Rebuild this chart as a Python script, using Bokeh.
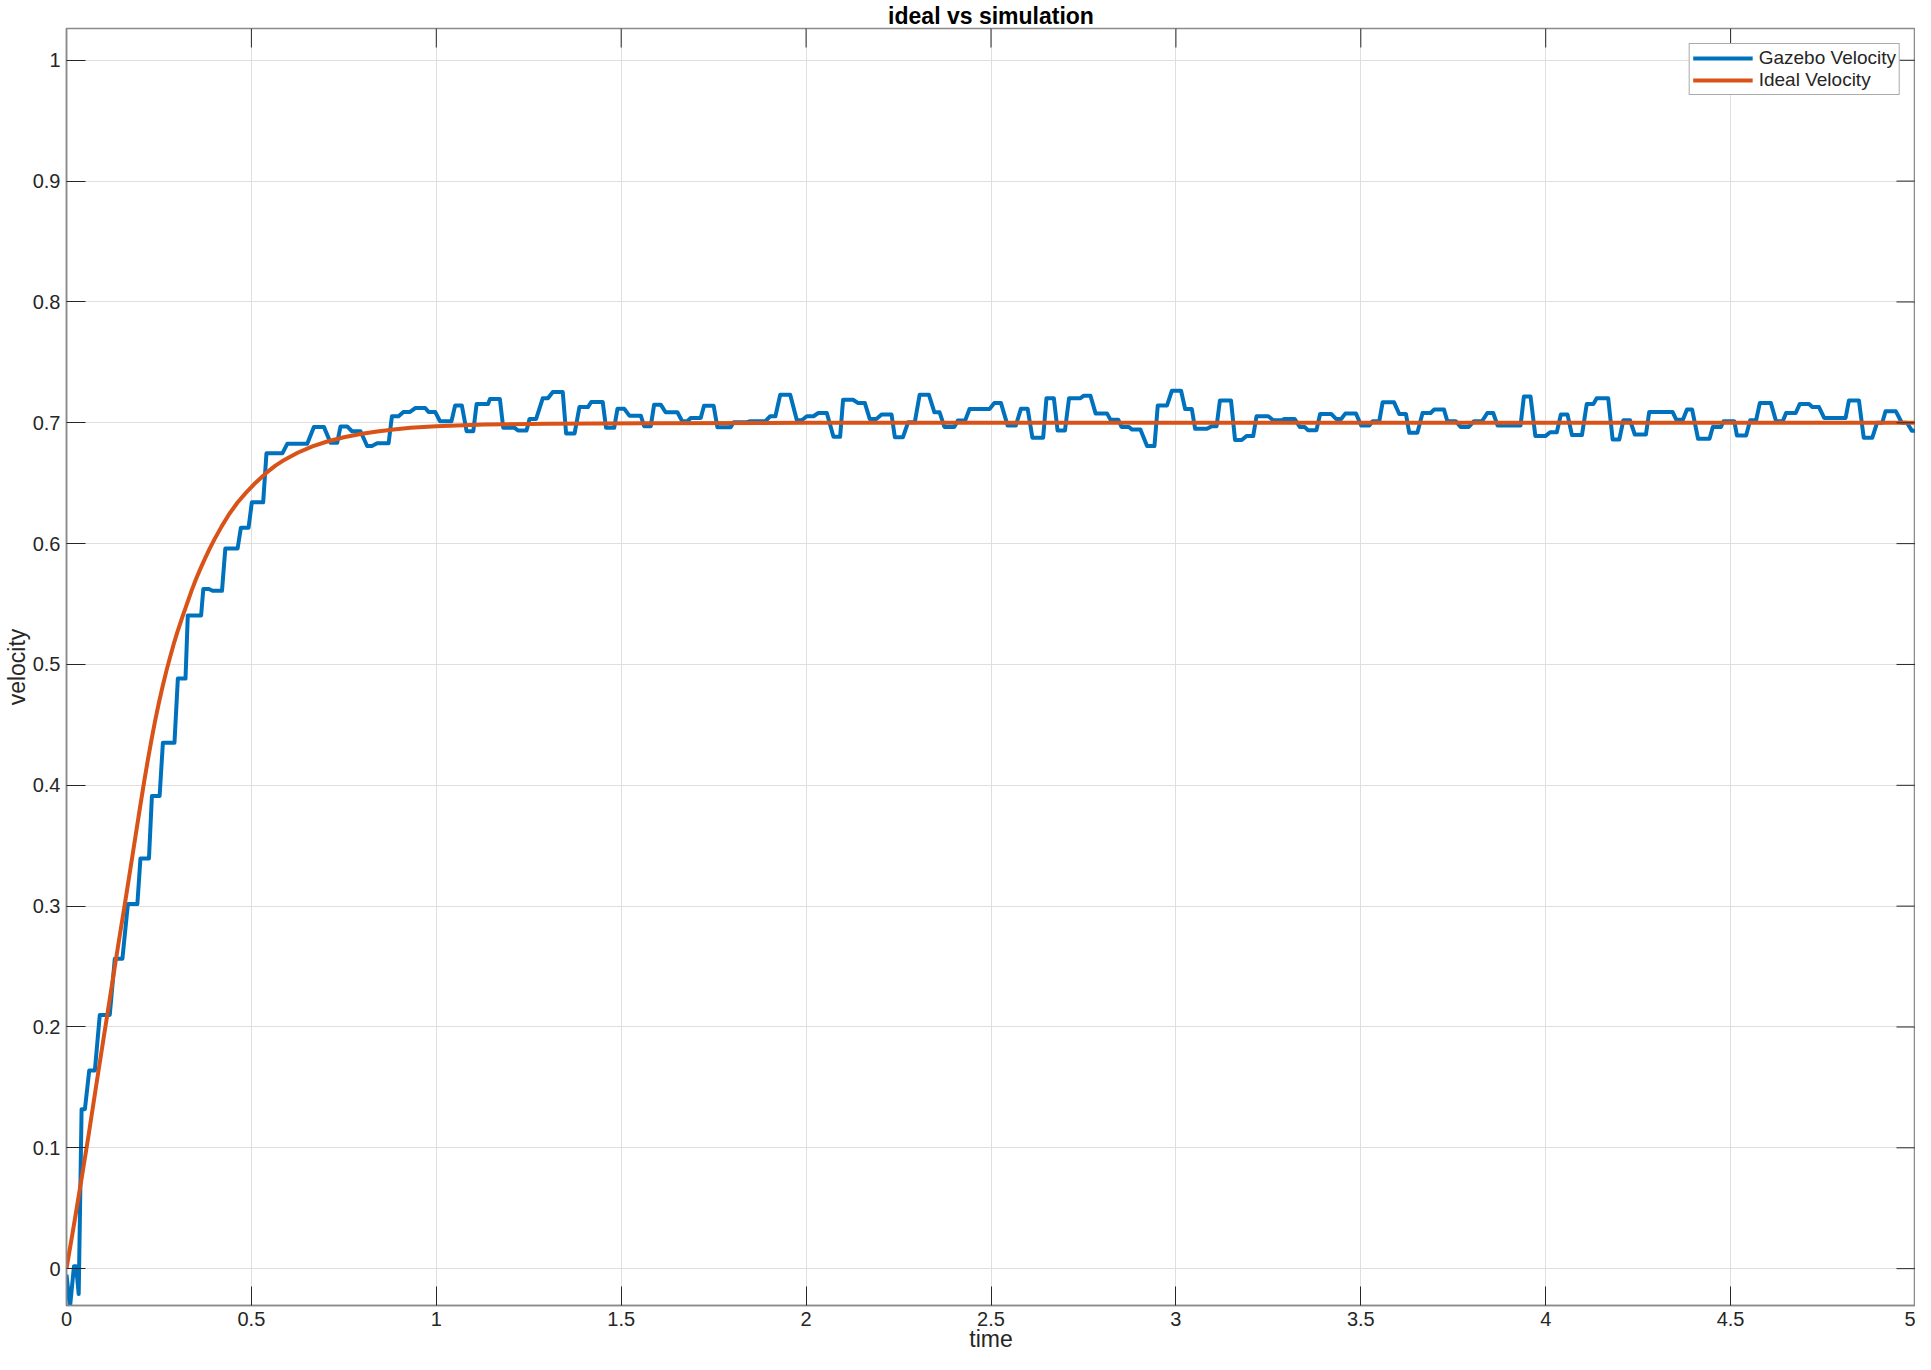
import math
from bokeh.plotting import figure
from bokeh.models import Range1d, FixedTicker, Legend, LegendItem, ColumnDataSource
from bokeh.embed import file_html
from bokeh.resources import INLINE

# ---------------- data ----------------
x_ticks = [0, 0.5, 1, 1.5, 2, 2.5, 3, 3.5, 4, 4.5, 5]
x_tick_labels = ["0", "0.5", "1", "1.5", "2", "2.5", "3", "3.5", "4", "4.5", "5"]
y_ticks = [0, 0.1, 0.2, 0.3, 0.4, 0.5, 0.6, 0.7, 0.8, 0.9, 1.0]
y_tick_labels = ["0", "0.1", "0.2", "0.3", "0.4", "0.5", "0.6", "0.7", "0.8", "0.9", "1"]
x_limits = [0, 5]
y_limits = [-0.0305, 1.0263]

# Ideal velocity
ideal_time = [0, 0.02, 0.04, 0.06, 0.08, 0.10, 0.12, 0.14, 0.16, 0.18, 0.20, 0.21, 0.22,
              0.23, 0.24, 0.25, 0.26, 0.27, 0.28, 0.29, 0.30, 0.3125, 0.325, 0.3375, 0.35,
              0.3625, 0.375, 0.3875, 0.40, 0.42, 0.44, 0.4625, 0.485, 0.51, 0.54, 0.565,
              0.59, 0.625, 0.665, 0.705, 0.75, 0.795, 0.84, 0.885, 0.93, 1.0, 1.13, 1.3,
              1.56, 2.0, 5.0]
ideal_vel = [0, 0.036, 0.073, 0.111, 0.151, 0.19, 0.229, 0.268, 0.306, 0.345, 0.384, 0.403,
             0.421, 0.438, 0.454, 0.4685, 0.482, 0.4945, 0.506, 0.517, 0.527, 0.5385, 0.5495,
             0.5605, 0.5705, 0.5795, 0.588, 0.596, 0.6035, 0.6145, 0.6245, 0.634, 0.642,
             0.65, 0.6585, 0.6645, 0.6695, 0.6752, 0.6805, 0.6845, 0.688, 0.6907, 0.6928,
             0.6945, 0.6958, 0.6972, 0.6985, 0.6993, 0.6997, 0.7, 0.7]

# Gazebo velocity: held samples (start time, end time, value)
step_start = [0.000, 0.0094, 0.0202, 0.033, 0.0408, 0.0615, 0.090, 0.1306, 0.166, 0.200,
              0.231, 0.2607, 0.3011, 0.328, 0.370, 0.395, 0.4295, 0.4716, 0.5012, 0.5407,
              0.5973, 0.669, 0.714, 0.741, 0.772, 0.813, 0.840, 0.880, 0.911, 0.943,
              0.979, 1.010, 1.051, 1.082, 1.109, 1.145, 1.181, 1.221, 1.252, 1.288,
              1.315, 1.351, 1.387, 1.419, 1.459, 1.490, 1.522, 1.562, 1.589, 1.620,
              1.665, 1.688, 1.724, 1.760, 1.804, 1.849, 1.903, 1.930, 1.975, 2.002,
              2.033, 2.074, 2.100, 2.141, 2.172, 2.204, 2.240, 2.276, 2.307, 2.347,
              2.374, 2.410, 2.442, 2.509, 2.545, 2.581, 2.612, 2.650, 2.680, 2.711,
              2.751, 2.783, 2.823, 2.853, 2.881, 2.922, 2.951, 2.989, 3.025, 3.052,
              3.097, 3.119, 3.160, 3.191, 3.218, 3.263, 3.294, 3.335, 3.357, 3.390,
              3.433, 3.458, 3.501, 3.532, 3.559, 3.604, 3.631, 3.667, 3.698, 3.734,
              3.770, 3.806, 3.842, 3.870, 3.941, 3.972, 4.012, 4.041, 4.071, 4.111,
              4.138, 4.181, 4.210, 4.241, 4.280, 4.353, 4.382, 4.412, 4.452, 4.481,
              4.517, 4.553, 4.579, 4.623, 4.650, 4.687, 4.721, 4.753, 4.820, 4.860,
              4.896, 4.919, 4.963, 4.990]
step_end = [0.000, 0.0094, 0.026, 0.033, 0.0498, 0.0767, 0.117, 0.1512, 0.1916, 0.223,
            0.2518, 0.292, 0.3218, 0.364, 0.385, 0.4205, 0.4627, 0.4923, 0.5318, 0.5838,
            0.651, 0.696, 0.732, 0.759, 0.795, 0.826, 0.871, 0.898, 0.929, 0.970,
            0.997, 1.041, 1.069, 1.100, 1.140, 1.172, 1.212, 1.244, 1.270, 1.302,
            1.342, 1.374, 1.410, 1.450, 1.481, 1.508, 1.553, 1.580, 1.607, 1.652,
            1.679, 1.715, 1.750, 1.796, 1.840, 1.890, 1.917, 1.957, 1.988, 2.020,
            2.056, 2.092, 2.127, 2.159, 2.190, 2.231, 2.262, 2.294, 2.332, 2.361,
            2.401, 2.430, 2.496, 2.527, 2.567, 2.599, 2.641, 2.670, 2.700, 2.742,
            2.769, 2.814, 2.844, 2.873, 2.904, 2.942, 2.976, 3.014, 3.043, 3.084,
            3.110, 3.149, 3.178, 3.209, 3.250, 3.285, 3.321, 3.348, 3.380, 3.420,
            3.447, 3.487, 3.523, 3.550, 3.590, 3.622, 3.653, 3.689, 3.725, 3.757,
            3.792, 3.828, 3.858, 3.932, 3.959, 3.999, 4.030, 4.059, 4.098, 4.129,
            4.169, 4.199, 4.228, 4.271, 4.343, 4.371, 4.396, 4.443, 4.474, 4.510,
            4.542, 4.569, 4.609, 4.641, 4.676, 4.712, 4.739, 4.811, 4.847, 4.883,
            4.910, 4.947, 4.977, 5.000]
step_vel = [-0.005, -0.032, 0.002, -0.021, 0.132, 0.164, 0.210, 0.2565, 0.3017, 0.3395,
            0.3912, 0.4353, 0.4883, 0.5406, 0.5625, 0.561, 0.596, 0.6132, 0.6342, 0.6747,
            0.6827, 0.6966, 0.6835, 0.697, 0.693, 0.6808, 0.683, 0.7054, 0.709, 0.7122,
            0.709, 0.7013, 0.7144, 0.693, 0.7155, 0.7196, 0.6958, 0.6936, 0.7032, 0.7204,
            0.7254, 0.6912, 0.713, 0.7172, 0.6958, 0.7117, 0.7059, 0.6972, 0.715, 0.7087,
            0.7013, 0.704, 0.7141, 0.6964, 0.7005, 0.7013, 0.7054, 0.7232, 0.7021, 0.7054,
            0.7081, 0.6884, 0.7191, 0.7163, 0.7032, 0.7068, 0.6881, 0.7005, 0.7232, 0.7087,
            0.6966, 0.7018, 0.7114, 0.7163, 0.6977, 0.7117, 0.6876, 0.7204, 0.6936, 0.7204,
            0.7224, 0.7076, 0.7026, 0.6966, 0.6944, 0.6808, 0.7144, 0.7265, 0.7114, 0.695,
            0.6972, 0.7185, 0.6857, 0.689, 0.7054, 0.7021, 0.7032, 0.6966, 0.6939, 0.7073,
            0.7032, 0.7076, 0.6977, 0.7013, 0.7169, 0.7073, 0.6917, 0.7081, 0.7109, 0.7013,
            0.6966, 0.7013, 0.7081, 0.6977, 0.7218, 0.689, 0.6922, 0.7068, 0.6898, 0.7155,
            0.7204, 0.6862, 0.7021, 0.6903, 0.709, 0.7026, 0.7109, 0.6868, 0.6966, 0.7013,
            0.6895, 0.7021, 0.7163, 0.7013, 0.7081, 0.7155, 0.713, 0.704, 0.7185, 0.6876,
            0.70, 0.7095, 0.70, 0.6935]

gz_time, gz_vel = [], []
for a, b, v in zip(step_start, step_end, step_vel):
    gz_time.append(a)
    gz_vel.append(v)
    if b != a:
        gz_time.append(b)
        gz_vel.append(v)

# ---------------- styling ----------------
FONT = "Liberation Sans"
TXT = "#262626"
AXIS_GREY = "#8a8a8a"
GRID = "#dfdfdf"
BLUE = "#0072BD"
ORANGE = "#D95319"
TICK_LEN = 19

p = figure(width=1915, height=1354, output_backend="svg", toolbar_location=None,
           x_range=Range1d(*x_limits), y_range=Range1d(*y_limits),
           min_border_left=50, min_border_right=0, min_border_top=0, min_border_bottom=20,
           background_fill_color="white", border_fill_color="white")

p.title.text = "ideal vs simulation"
p.title.align = "center"
p.title.text_font = FONT
p.title.text_font_size = "23px"
p.title.text_font_style = "bold"
p.title.text_color = "#000000"
p.title.standoff = 0
p.title.offset = 0

p.outline_line_color = AXIS_GREY
p.outline_line_width = 1.5

p.xgrid.grid_line_color = GRID
p.ygrid.grid_line_color = GRID

gz_src = ColumnDataSource(dict(t=gz_time, v=gz_vel))
id_src = ColumnDataSource(dict(t=ideal_time, v=ideal_vel))
r_gz = p.line("t", "v", source=gz_src, line_color=BLUE, line_width=4, line_join="round")
r_id = p.line("t", "v", source=id_src, line_color=ORANGE, line_width=4, line_join="round")

# inward ticks on the right and top edges (half of each dash is clipped by the frame)
p.scatter(x=[x_limits[1]] * len(y_ticks), y=y_ticks, marker="dash", size=2 * TICK_LEN,
          line_color=TXT, line_width=1)
p.scatter(x=x_ticks, y=[y_limits[1]] * len(x_ticks), marker="dash", angle=math.pi / 2,
          size=2 * TICK_LEN, line_color=TXT, line_width=1)

xt = FixedTicker(ticks=x_ticks, minor_ticks=[])
yt = FixedTicker(ticks=y_ticks, minor_ticks=[])
p.xaxis.ticker = xt
p.yaxis.ticker = yt
p.xgrid.ticker = xt
p.ygrid.ticker = yt
p.xaxis.major_label_overrides = {t: s for t, s in zip(x_ticks, x_tick_labels)}
p.yaxis.major_label_overrides = {t: s for t, s in zip(y_ticks, y_tick_labels)}

p.xaxis.axis_label = "time"
p.yaxis.axis_label = "velocity"

for ax in list(p.xaxis) + list(p.yaxis):
    ax.axis_line_color = AXIS_GREY
    ax.axis_line_width = 1.5
    ax.major_tick_line_color = TXT
    ax.major_tick_line_width = 1
    ax.major_tick_in = TICK_LEN
    ax.major_tick_out = 0
    ax.minor_tick_line_color = None
    ax.major_label_text_font = FONT
    ax.major_label_text_font_size = "20px"
    ax.major_label_text_color = TXT
    ax.axis_label_text_font = FONT
    ax.axis_label_text_font_size = "23px"
    ax.axis_label_text_font_style = "normal"
    ax.axis_label_text_color = TXT

p.xaxis.major_label_standoff = 6
p.xaxis.axis_label_standoff = -3
p.yaxis.major_label_standoff = 6
p.yaxis.axis_label_standoff = 0

legend = Legend(items=[LegendItem(label="Gazebo Velocity", renderers=[r_gz]),
                       LegendItem(label="Ideal Velocity", renderers=[r_id])],
                location="top_right")
legend.label_text_font = FONT
legend.label_text_font_size = "19px"
legend.label_text_color = TXT
legend.glyph_width = 60
legend.glyph_height = 18
legend.label_height = 18
legend.label_standoff = 6
legend.spacing = 0
legend.padding = 3
legend.margin = 15
legend.border_line_color = "#555555"
legend.border_line_width = 1
legend.background_fill_color = "white"
legend.background_fill_alpha = 1
p.add_layout(legend)

open("out.html", "w").write(file_html(p, INLINE))
